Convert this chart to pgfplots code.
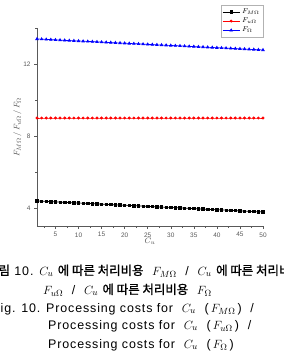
\documentclass[border=0pt]{standalone}
\usepackage{pgfplots}
\usepackage{pgfplotstable}
\pgfplotsset{compat=1.18}
\usepackage{fontspec}
\setmainfont{Liberation Sans}
\newfontfamily\capfont[LetterSpace=7]{Liberation Sans}
\newfontfamily\kr[FakeBold=1.2]{Noto Sans CJK KR}
\pgfplotstableread{
x m u o
1 4.390 9 13.390
2 4.378 9 13.378
3 4.365 9 13.365
4 4.353 9 13.353
5 4.340 9 13.340
6 4.328 9 13.328
7 4.315 9 13.315
8 4.303 9 13.303
9 4.290 9 13.290
10 4.278 9 13.278
11 4.265 9 13.265
12 4.253 9 13.253
13 4.241 9 13.241
14 4.228 9 13.228
15 4.216 9 13.216
16 4.203 9 13.203
17 4.191 9 13.191
18 4.178 9 13.178
19 4.166 9 13.166
20 4.153 9 13.153
21 4.141 9 13.141
22 4.129 9 13.129
23 4.116 9 13.116
24 4.104 9 13.104
25 4.091 9 13.091
26 4.079 9 13.079
27 4.066 9 13.066
28 4.054 9 13.054
29 4.041 9 13.041
30 4.029 9 13.029
31 4.017 9 13.017
32 4.004 9 13.004
33 3.992 9 12.992
34 3.979 9 12.979
35 3.967 9 12.967
36 3.954 9 12.954
37 3.942 9 12.942
38 3.929 9 12.929
39 3.917 9 12.917
40 3.904 9 12.904
41 3.892 9 12.892
42 3.880 9 12.880
43 3.867 9 12.867
44 3.855 9 12.855
45 3.842 9 12.842
46 3.830 9 12.830
47 3.817 9 12.817
48 3.805 9 12.805
49 3.792 9 12.792
50 3.780 9 12.780
}\datatable
\begin{document}
\begin{tikzpicture}
\useasboundingbox (0,0) rectangle (284bp,-355bp);
\begin{axis}[
  at={(37bp,-226bp)}, anchor=south west,
  scale only axis, width=226bp, height=198bp,
  xmin=1, xmax=50, ymin=3, ymax=14,
  axis x line*=bottom, axis y line*=left,
  axis line style={gray!70!black, line width=0.6pt},
  xtick={5,10,...,50}, minor xtick={2.5,7.5,...,47.5},
  ytick={4,8,12}, minor ytick={6,10,14},
  tick align=outside, major tick length=3bp, minor tick length=2bp,
  tick style={gray!70!black, line width=0.5pt},
  /pgf/number format/assume math mode=true,
  ticklabel style={font=\fontsize{6.5}{7}\selectfont, text=gray!70!black},
  xlabel={$C_u$}, ylabel={$F_{M\Omega}\,/\,F_{u\Omega}\,/\,F_{\Omega}$},
  label style={font=\fontsize{8.5}{9}\selectfont, text=gray!60!black},
  xlabel style={at={(axis description cs:0.5,0)}, anchor=north, yshift=-9bp},
  ylabel style={at={(axis description cs:0,0.5)}, anchor=south, yshift=12bp},
  legend style={at={(1,1.116)}, anchor=north east, draw=gray!60, line width=0.4pt,
    font=\fontsize{7.5}{8}\selectfont, inner sep=1.5bp, row sep=-1bp,
    legend cell align=left},
  clip=false,
]
\addplot[black, line width=0.7pt, mark=square*, mark size=1.2bp] table[x=x,y=m]{\datatable};
\addlegendentry{$F_{M\Omega}$}
\addplot[red, line width=0.7pt, mark=*, mark size=1.1bp] table[x=x,y=u]{\datatable};
\addlegendentry{$F_{u\Omega}$}
\addplot[blue, line width=0.7pt, mark=triangle*, mark size=1.4bp] table[x=x,y=o]{\datatable};
\addlegendentry{$F_{\Omega}$}
\end{axis}
\begin{scope}[font=\capfont\fontsize{12.5}{13}\selectfont]
\node[anchor=base west, inner sep=0] at (-13bp,-275bp) {{\kr 그림} 10. $C_u$ {\kr 에 따른 처리비용} \ $F_{M\Omega}$ \ / \ $C_u$ {\kr 에 따른 처리비용}};
\node[anchor=base west, inner sep=0] at (43bp,-294bp) {$F_{u\Omega}$ \ / \ $C_u$ {\kr 에 따른 처리비용} \ $F_{\Omega}$};
\node[anchor=base west, inner sep=0] at (-8bp,-312bp) {Fig. 10. Processing costs for \ $C_u$ \ (\,$F_{M\Omega}$\,) \ /};
\node[anchor=base west, inner sep=0] at (48bp,-329bp) {Processing costs for \ $C_u$ \ (\,$F_{u\Omega}$\,) \ /};
\node[anchor=base west, inner sep=0] at (48bp,-348bp) {Processing costs for \ $C_u$ \ (\,$F_{\Omega}$\,)};
\end{scope}
\end{tikzpicture}
\end{document}
